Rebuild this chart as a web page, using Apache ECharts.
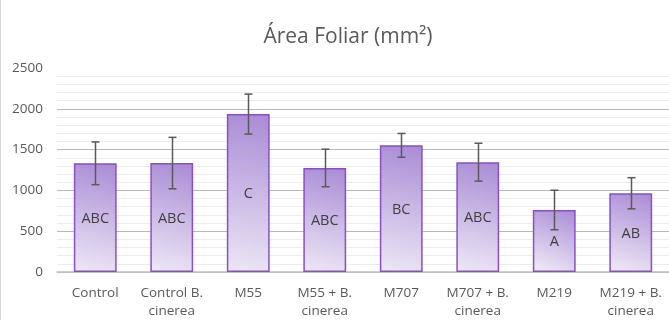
<!DOCTYPE html>
<html>
<head>
<meta charset="utf-8">
<script src="https://cdn.jsdelivr.net/npm/echarts@6/dist/echarts.min.js"></script>
<style>html,body{margin:0;padding:0;background:#fff;}#c{width:669px;height:320px;}</style>
</head>
<body>
<div id="c"></div>
<script>
const categories = ['Control', 'Control B.\ncinerea', 'M55', 'M55 + B.\ncinerea', 'M707', 'M707 + B.\ncinerea', 'M219', 'M219 + B.\ncinerea'];
const values = [1332, 1335, 1935, 1275, 1552, 1346, 760, 965];
const errors = [262, 315, 245, 230, 146, 232, 242, 191];
const letters = ['ABC', 'ABC', 'C', 'ABC', 'BC', 'ABC', 'A', 'AB'];
const yTicks = [0, 500, 1000, 1500, 2000, 2500];

const chart = echarts.init(document.getElementById('c'), null, {renderer: 'canvas'});
const font = 'Open Sans, Noto Sans, sans-serif';

chart.setOption({
  animation: false,
  title: {
    text: 'Área Foliar (mm²)',
    left: 343, textAlign: 'center', top: 22,
    textStyle: {fontFamily: font, fontSize: 21, fontWeight: 'normal', color: '#595959'}
  },
  graphic: [{type: 'line', shape: {x1: 0.5, y1: 0, x2: 0.5, y2: 320}, style: {stroke: '#d9d9d9', lineWidth: 1}}],
  grid: {left: 57, top: 68, width: 614, height: 205, containLabel: false},
  xAxis: {
    type: 'category', data: categories,
    axisLine: {lineStyle: {color: '#bfbfbf', width: 1.5}},
    axisTick: {show: false},
    axisLabel: {fontFamily: font, fontSize: 13.5, color: '#595959', lineHeight: 18, margin: 12, interval: 0}
  },
  yAxis: {
    type: 'value', min: yTicks[0], max: yTicks[yTicks.length - 1], interval: 500,
    axisLine: {show: false}, axisTick: {show: false},
    axisLabel: {fontFamily: font, fontSize: 13.5, color: '#595959', margin: 14, formatter: v => String(v)},
    splitLine: {lineStyle: {color: ['#b8b8b8', '#b8b8b8', '#b8b8b8', '#b8b8b8', '#b8b8b8', 'rgba(0,0,0,0)'], width: 1}},
    minorTick: {show: false, splitNumber: 5},
    minorSplitLine: {show: true, lineStyle: {color: '#ececec', width: 1}}
  },
  series: [{
    type: 'bar', data: values, barWidth: '56%',
    itemStyle: {
      borderColor: '#8a4fc4', borderWidth: 1.5,
      color: new echarts.graphic.LinearGradient(1, 0, 0.4, 1, [
        {offset: 0, color: '#a98bd5'},
        {offset: 1, color: '#ebe5f4'}
      ])
    },
    label: {
      show: true, position: 'inside', offset: [0, 1],
      formatter: p => letters[p.dataIndex],
      fontFamily: font, fontSize: 14.5, color: '#404040'
    },
    z: 2
  }, {
    type: 'custom', z: 5,
    data: values.map((v, i) => [i, v - errors[i], v + errors[i]]),
    renderItem: function (params, api) {
      const lo = api.coord([api.value(0), api.value(1)]);
      const hi = api.coord([api.value(0), api.value(2)]);
      const x = Math.round(lo[0]) + 0.5, h = 4;
      const st = {stroke: '#595959', lineWidth: 1.5};
      return {type: 'group', children: [
        {type: 'line', shape: {x1: x, y1: lo[1], x2: x, y2: hi[1]}, style: st},
        {type: 'line', shape: {x1: x - h, y1: lo[1], x2: x + h, y2: lo[1]}, style: st},
        {type: 'line', shape: {x1: x - h, y1: hi[1], x2: x + h, y2: hi[1]}, style: st}
      ]};
    }
  }]
});
</script>
</body>
</html>
